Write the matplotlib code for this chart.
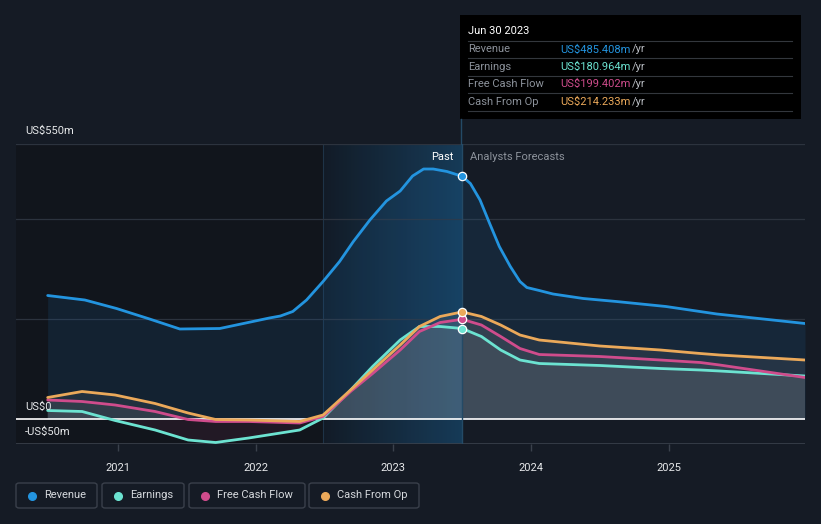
import numpy as np
import matplotlib.pyplot as plt
from matplotlib.patches import Rectangle, FancyBboxPatch
from matplotlib.lines import Line2D
from matplotlib.colors import LinearSegmentedColormap

plt.rcParams['font.family'] = ['Roboto', 'DejaVu Sans']

## DATA (decimal years, US$m)
rev_x = [2020.49, 2020.76, 2020.99, 2021.23, 2021.45, 2021.74, 2021.98, 2022.10, 2022.18,
         2022.27, 2022.37, 2022.49, 2022.61, 2022.71, 2022.83, 2022.95, 2023.05, 2023.14,
         2023.22, 2023.29, 2023.39, 2023.5, 2023.56, 2023.63, 2023.70, 2023.77, 2023.85,
         2023.92, 2023.97, 2024.06, 2024.16, 2024.38, 2024.62, 2024.98, 2025.35, 2025.99]
revenue = [247, 238, 221, 200, 180, 181, 195, 202, 206,
           215, 238, 275, 315, 355, 398, 436, 456, 486,
           500, 500, 495, 485.4, 471, 438, 391, 345, 305,
           275, 263, 257, 250, 241, 235, 225, 210, 191]

oth_x = [2020.49, 2020.74, 2020.98, 2021.27, 2021.51, 2021.71, 2021.95, 2022.32, 2022.49,
         2022.69, 2022.85, 2023.05, 2023.19, 2023.34, 2023.5, 2023.64, 2023.78, 2023.92,
         2024.06, 2024.5, 2024.94, 2025.23, 2025.37, 2025.99]
earnings = [17, 15, -3, -22, -42, -47, -38, -22, 2,
            58, 105, 158, 185, 185, 181, 165, 138, 118,
            111, 107, 101, 98, 96, 86]
fcf = [38, 35, 28, 15, -1, -5, -5, -8, 5,
       55, 91, 138, 175, 193, 199.4, 188, 165, 141,
       129, 125, 118, 113, 108, 83]
cfo = [43, 55, 48, 31, 12, -1, -2, -5, 8,
       58, 98, 148, 185, 205, 214.2, 205, 188, 168,
       158, 146, 138, 131, 128, 118]

NAMES = ['Revenue', 'Earnings', 'Free Cash Flow', 'Cash From Op']
COLORS = ['#2394df', '#6ce3d1', '#cf4c8c', '#eba95a']
TIP_VALUES = ['US$485.408m', 'US$180.964m', 'US$199.402m', 'US$214.233m']
YEARS = [2021, 2022, 2023, 2024, 2025]

BG = '#151b25'
NOW = 2023.5
PAST_START = 2022.49

## FIGURE
W, H = 821, 524
fig = plt.figure(figsize=(W / 100, H / 100), dpi=100)
fig.patch.set_facecolor(BG)

def fx(px):
    return px / W

def fy(py):
    return 1 - py / H

ax = fig.add_axes([fx(16), fy(444), fx(805) - fx(16), fy(144) - fy(444)])
ax.set_facecolor(BG)
ax.set_xlim(2020.26, 2025.99)
ax.set_ylim(-50, 550)
for s in ax.spines.values():
    s.set_visible(False)

# darker zone before the highlighted year, and the past gradient
ax.axvspan(2020.26, PAST_START, color='#11151c', zorder=0)
grad = np.linspace(0, 1, 256).reshape(1, -1)
ax.imshow(grad, extent=[PAST_START, NOW, -50, 550], aspect='auto',
          cmap=LinearSegmentedColormap.from_list('pst', ['#121c28', '#173f5e']),
          zorder=0.5, alpha=0.9)
ax.axvline(PAST_START, color='#1e3347', lw=0.8, zorder=0.6)

# grid
for v in [200, 400, 550]:
    ax.axhline(v, color='#2c333e', lw=0.9, zorder=1)
ax.axhline(-50, color='#3a414c', lw=1.2, zorder=1)

# fills
ax.fill_between(rev_x, revenue, 0, color='#1f6fae', alpha=0.15, lw=0, zorder=2)
for ys in [earnings, fcf, cfo]:
    ys = np.array(ys)
    ax.fill_between(oth_x, ys, 0, where=ys >= 0, interpolate=True,
                    color='#a3a6ab', alpha=0.11, lw=0, zorder=2)
    ax.fill_between(oth_x, ys, 0, where=ys < 0, interpolate=True,
                    color='#b03a6e', alpha=0.11, lw=0, zorder=2)

ax.axhline(0, color='white', lw=1.2, zorder=3)

# lines
series = [(rev_x, revenue), (oth_x, earnings), (oth_x, fcf), (oth_x, cfo)]
for (xs, ys), c in zip(series, COLORS):
    ax.plot(xs, ys, color=c, lw=2.0, zorder=4, solid_capstyle='round',
            solid_joinstyle='round')

# markers at Jun 30 2023
ax.axvline(NOW, color='#244a66', lw=1, zorder=3)
for (xs, ys), c in zip(series, COLORS):
    i = xs.index(NOW)
    ax.plot([NOW], [ys[i]], 'o', ms=6, mfc=c, mec='white', mew=0.9, zorder=6)

# y labels
ylab = {550: ('US$550m', 131), 0: ('US$0', 407), -50: ('-US$50m', 432)}
for v, (t, py) in ylab.items():
    fig.text(fx(25), fy(py), t, color='#e6e8ea', fontsize=8, va='center', ha='left')

# x ticks
ax.set_xticks(YEARS)
ax.set_xticklabels([str(y) for y in YEARS])
ax.tick_params(axis='x', colors='#3a414c', labelcolor='#e6e8ea', labelsize=8,
               length=5, width=1, pad=9)
ax.set_yticks([])

# past / forecast labels
ax.text(NOW - 0.065, 523, 'Past', color='white', fontsize=8, ha='right', va='center')
ax.text(NOW + 0.06, 523, 'Analysts Forecasts', color='#8c929b', fontsize=8,
        ha='left', va='center')

# tooltip
fig.patches.append(Rectangle((fx(460), fy(119)), fx(801) - fx(460), fy(15) - fy(119),
                             transform=fig.transFigure, fc='black', ec='none'))
fig.add_artist(Line2D([fx(460.5), fx(460.5)], [fy(119), fy(144)], color='#244a66', lw=1))
fig.text(fx(468), fy(31), 'Jun 30 2023', color='white', fontsize=8, va='center')
for py in [41, 58, 76, 93, 111]:
    fig.add_artist(Line2D([fx(468), fx(792)], [fy(py), fy(py)], color='#33373d', lw=0.8))
for k, (n, v, c) in enumerate(zip(NAMES, TIP_VALUES, COLORS)):
    py = 49.5 + k * 17.4
    fig.text(fx(468), fy(py), n, color='#8c929b', fontsize=8, va='center')
    fig.text(fx(560), fy(py), v, color=c, fontsize=8, va='center')
    fig.text(fx(632), fy(py), '/yr', color='#b8bcc2', fontsize=8, va='center')

# legend boxes
boxes = [(16, 97), (102, 184), (189, 305), (309, 419)]
for (x0, x1), n, c in zip(boxes, NAMES, COLORS):
    fig.patches.append(FancyBboxPatch((fx(x0), fy(508)), fx(x1) - fx(x0), fy(483) - fy(508),
                                      boxstyle='round,pad=0,rounding_size=0.004',
                                      transform=fig.transFigure, fc=BG, ec='#3a404b', lw=1))
    fig.add_artist(Line2D([fx(x0 + 16)], [fy(495.5)], marker='o', ms=5.5, color=c, mec=c))
    fig.text(fx(x0 + 28), fy(495.5), n, color='#d6d9dd', fontsize=8, va='center')

fig.savefig('out.png', dpi=100, facecolor=BG)
